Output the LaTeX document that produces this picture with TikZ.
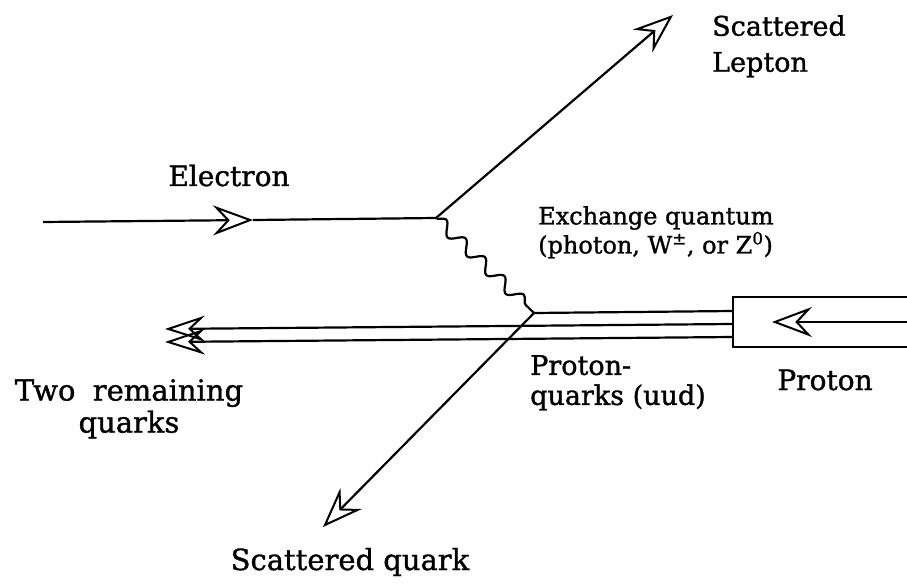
\documentclass[tikz,border=0pt]{standalone}
\usepackage{fontspec}
\setmainfont{DejaVu Serif}[UprightFeatures={FakeBold=1.2}]
\usetikzlibrary{arrows.meta, decorations.pathmorphing}
\tikzset{
  fline/.style={line width=2.2pt, draw=black},
  % open fletched heads, as in the printed figure
  farr/.style={fline, -{Stealth[open, length=40pt, width=30pt, inset=14pt, line width=2pt]}},
  qarr/.style={fline, -{Stealth[open, length=40pt, width=26pt, inset=14pt, line width=2pt]}},
  wavy/.style={fline, decorate, decoration={snake, amplitude=6pt, segment length=27pt}},
  lbl/.style={font=\fontsize{28}{33}\selectfont, inner sep=0pt, align=left},
}

\begin{document}
\begin{tikzpicture}[x=1pt, y=-1pt]
  \useasboundingbox (0,0) rectangle (907,585);

  % vertices and line ends
  \coordinate (ein) at (43,222);
  \coordinate (etip) at (253,220);
  \coordinate (v1) at (436,218);
  \coordinate (ltip) at (673,15);
  \coordinate (v2) at (534,313);
  \coordinate (qtip) at (323,527);

  % proton box
  \coordinate (bxtr) at (907,297);
  \coordinate (bxtl) at (733,297);
  \coordinate (bxbl) at (733,347);
  \coordinate (bxbr) at (907,347);
  \coordinate (pin) at (907,322);
  \coordinate (ptip) at (772,322);

  % quark lines
  \coordinate (q1r) at (733,311);
  \coordinate (q2r) at (733,324);
  \coordinate (q3r) at (733,337);
  \coordinate (q2l) at (165,329);
  \coordinate (q3l) at (165,342);

  \draw[farr] (ein) -- (etip);
  \draw[fline] (etip) -- (v1);
  \draw[farr] (v1) -- (ltip);
  \draw[wavy] (v1) -- (v2);
  \draw[fline] (v2) -- (q1r);
  \draw[qarr] (q2r) -- (q2l);
  \draw[qarr] (q3r) -- (q3l);
  \draw[farr] (v2) -- (qtip);
  \draw[fline] (bxtr) -- (bxtl) -- (bxbl) -- (bxbr);
  \draw[farr] (pin) -- (ptip);

  % labels
  \node[lbl, anchor=base] (electron) at (229,186) {Electron};
  \node[lbl, anchor=north west, font=\fontsize{27}{36}\selectfont] (lepton) at (712,15) {Scattered\\Lepton};
  \node[lbl, anchor=north west, font=\fontsize{24}{29}\selectfont] (exch) at (538,206) {Exchange quantum\\(photon, W\textsuperscript{±}, or Z\textsuperscript{0})};
  \node[lbl, anchor=north west, font=\fontsize{27}{30}\selectfont] (pquarks) at (530,355) {Proton-\\quarks (uud)};
  \node[lbl, anchor=base] (proton) at (825,390) {Proton};
  \node[lbl, anchor=north, align=center, font=\fontsize{29}{32}\selectfont] (remain) at (129,379) {Two\hspace{0.6em}remaining\\quarks};
  \node[lbl, anchor=base, font=\fontsize{29}{33}\selectfont] (squark) at (350,570) {Scattered quark};
\end{tikzpicture}
\end{document}
